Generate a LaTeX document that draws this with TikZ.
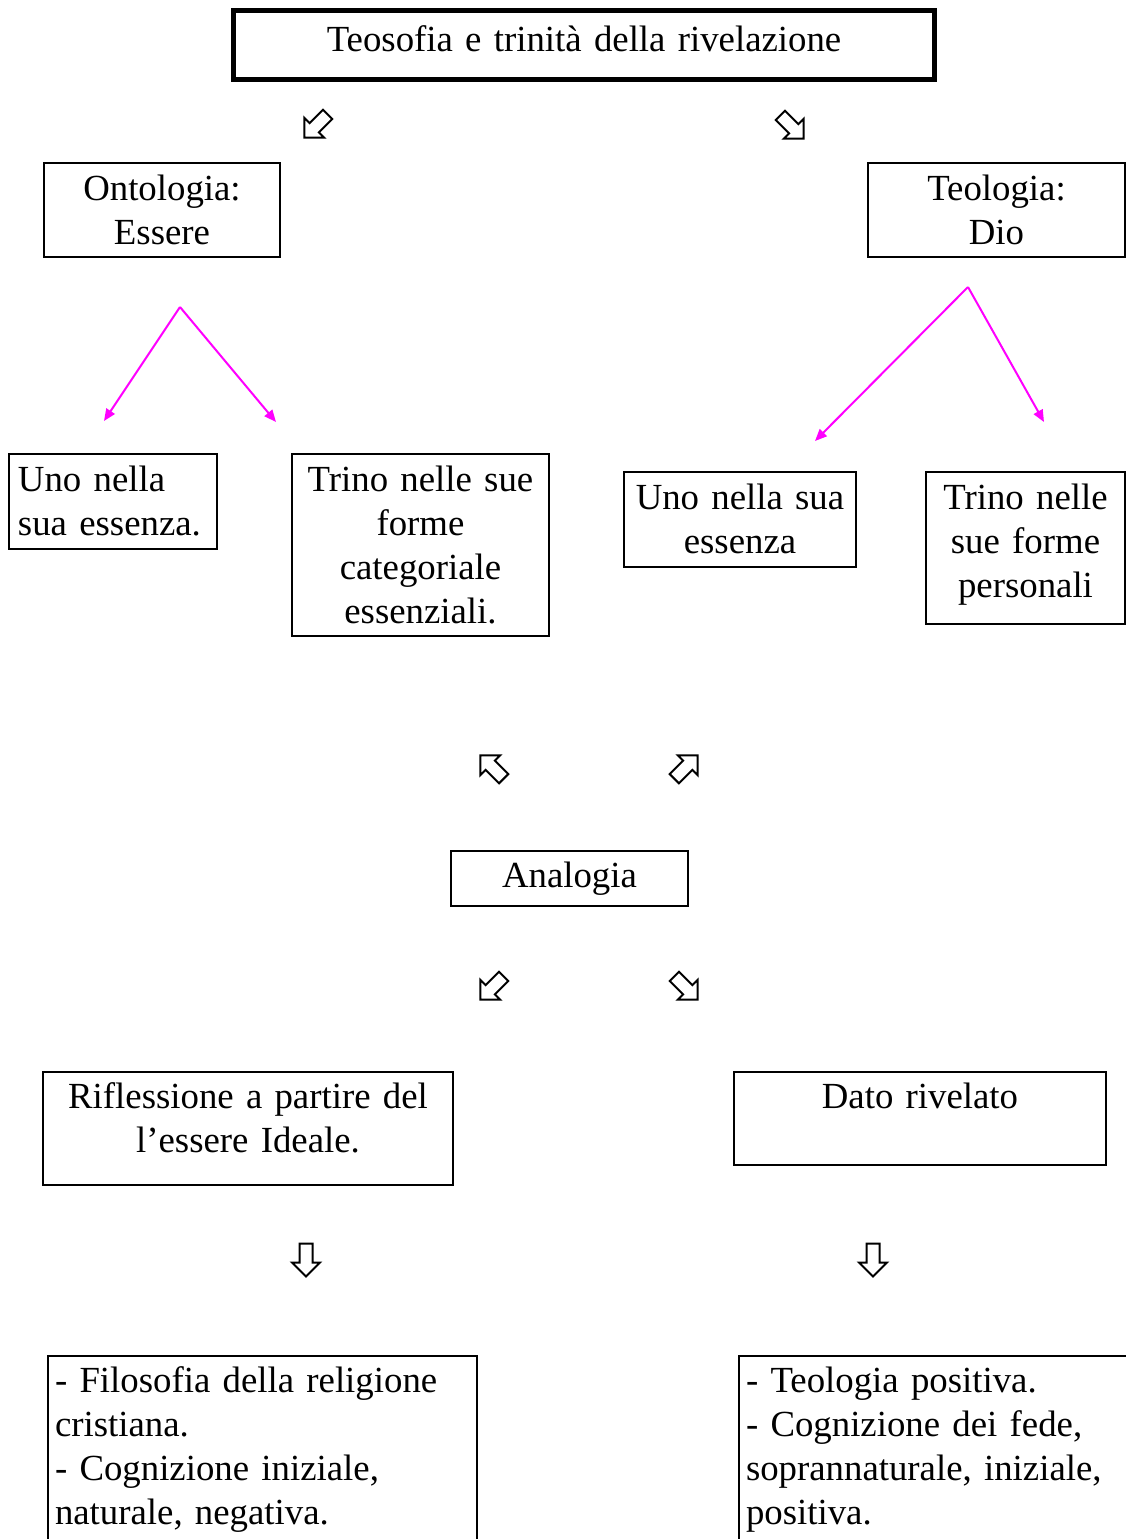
\documentclass[tikz,border=0pt]{standalone}
\usepackage{fontspec}
\setmainfont{Liberation Serif}
\usepackage{xcolor}
\usepackage{tikz}
\usetikzlibrary{arrows.meta}
\usetikzlibrary{positioning}

\definecolor{fuchsia}{RGB}{255,0,255}

\tikzset{
	box/.style={draw, line width=1pt, inner sep=0pt, anchor=base, align=center, font=\fontsize{18.4}{22}\selectfont},
	leftbox/.style={box, align=left, inner xsep=3.5pt},
	pinkarrow/.style={draw=fuchsia, line width=1pt, -{Triangle[length=6pt,width=5pt]}},
	hollowarrow/.pic={
		\draw [line width=1pt] (-6.5,16.5) -- (6.5,16.5) -- (6.5,-2.5) -- (14,-2.5) -- (0,-16.5) -- (-14,-2.5) -- (-6.5,-2.5) -- cycle;
	}
}

\begin{document}
\begin{tikzpicture}[x=0.5pt, y=0.5pt]

	\useasboundingbox (0,0) rectangle (1126,-1539);

	\node [box, line width=2.5pt, text width=350.5pt, text height=20.25pt, text depth=14.25pt] (title) at (584,-51) {Teosofia e trinità della rivelazione};

	\pic [rotate=-45] at (316,-126) {hollowarrow};
	\pic [rotate=45] at (792,-127) {hollowarrow};

	\node [box, text width=118pt, text height=18.5pt, text depth=28.5pt] (ontologia) at (162,-200) {Ontologia:\\ Essere};

	\node [box, text width=128.5pt, text height=18.5pt, text depth=28.5pt] (teologia) at (996.5,-200) {Teologia:\\ Dio};

	\coordinate (ontfork) at (180,-307);
	\coordinate (ontuno) at (104,-421);
	\coordinate (onttrino) at (276,-422);
	\draw [pinkarrow] (ontfork) -- (ontuno);
	\draw [pinkarrow] (ontfork) -- (onttrino);

	\coordinate (teofork) at (968,-287);
	\coordinate (teouno) at (815,-441);
	\coordinate (teotrino) at (1044,-422);
	\draw [pinkarrow] (teofork) -- (teouno);
	\draw [pinkarrow] (teofork) -- (teotrino);

	\node [leftbox, inner xsep=4.5pt, text width=95pt, text height=18.5pt, text depth=29pt] (unoontologia) at (113,-491) {Uno nella\\ sua essenza.};

	\node [box, text width=128.5pt, text height=18.5pt, text depth=72.5pt] (trinoontologia) at (420.5,-491) {Trino nelle sue\\ forme\\ categoriale\\ essenziali.};

	\node [box, text width=116pt, text height=18.5pt, text depth=29pt] (unoteologia) at (740,-509) {Uno nella sua\\ essenza};

	\node [box, text width=99.5pt, text height=18.5pt, text depth=57.5pt] (trinoteologia) at (1025.5,-509) {Trino nelle\\ sue forme\\ personali};

	\pic [rotate=-135] at (492,-767) {hollowarrow};
	\pic [rotate=135] at (686,-767) {hollowarrow};

	\node [box, text width=118.5pt, text height=18pt, text depth=9.5pt] (analogia) at (569.5,-887) {Analogia};

	\pic [rotate=-45] at (492,-988) {hollowarrow};
	\pic [rotate=45] at (686,-988) {hollowarrow};

	\node [box, text width=205pt, text height=18pt, text depth=38.5pt] (riflessione) at (248,-1108) {Riflessione a partire del\\ l’essere Ideale.};

	\node [box, text width=186pt, text height=18pt, text depth=28.5pt] (dato) at (920,-1108) {Dato rivelato};

	\pic at (306,-1260) {hollowarrow};
	\pic at (873,-1260) {hollowarrow};

	\node [leftbox, text width=207.5pt, text height=18pt, text depth=84.5pt] (filosofia) at (262.5,-1392) {- Filosofia della religione\\ cristiana.\\ - Cognizione iniziale,\\ naturale, negativa.};

	\node [leftbox, text width=187pt, text height=18pt, text depth=84.5pt] (teologiapositiva) at (933,-1392) {- Teologia positiva.\\ - Cognizione dei fede,\\ soprannaturale, iniziale,\\ positiva.};

\end{tikzpicture}
\end{document}
